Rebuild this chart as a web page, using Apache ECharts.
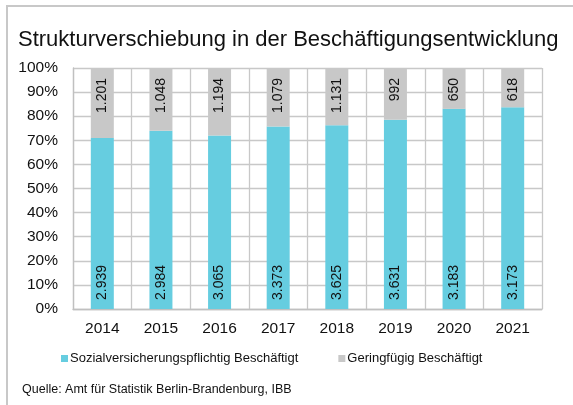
<!DOCTYPE html>
<html>
<head>
<meta charset="utf-8">
<script src="https://cdn.jsdelivr.net/npm/echarts@6/dist/echarts.min.js"></script>
<style>
html,body{margin:0;padding:0;background:#fff;}
#c{width:573px;height:405px;}
</style>
</head>
<body>
<div id="c"></div>
<script>
const categories = ['2014','2015','2016','2017','2018','2019','2020','2021'];
const sozial = [2939, 2984, 3065, 3373, 3625, 3631, 3183, 3173];
const gering = [1201, 1048, 1194, 1079, 1131, 992, 650, 618];
const yTicks = [0,10,20,30,40,50,60,70,80,90,100];

const fmt = v => { const s = String(v); return s.length > 3 ? s.slice(0, s.length-3) + '.' + s.slice(-3) : s; };
const sozialShare = sozial.map((v,i) => ({value: v/(v+gering[i])*100, raw: v}));
const geringShare = gering.map((v,i) => ({value: v/(v+sozial[i])*100, raw: v}));

const font = 'Liberation Sans, Arial, sans-serif';
const chart = echarts.init(document.getElementById('c'), null, {renderer:'canvas'});
chart.setOption({
  animation: false,
  backgroundColor: '#fff',
  textStyle: {fontFamily: font},
  title: {
    text: 'Strukturverschiebung in der Beschäftigungsentwicklung',
    left: 13, top: 24,
    textStyle: {fontFamily: font, fontSize: 22, fontWeight: 'normal', color: '#111'}
  },
  graphic: [
    {type:'rect', shape:{x:7, y:6, width:573, height:420}, style:{fill:'none', stroke:'#c8c8c8', lineWidth:2}, silent:true},
    {type:'text', left: 22, top: 383, style:{text:'Quelle: Amt für Statistik Berlin-Brandenburg, IBB', font:'12.5px ' + font, fill:'#111'}}
  ],
  legend: {
    top: 347, left: 56,
    itemWidth: 7, itemHeight: 7, itemGap: 40,
    icon: 'rect',
    textStyle: {fontFamily: font, fontSize: 13, color: '#111', padding:[0,0,0,-3]},
    data: ['Sozialversicherungspflichtig Beschäftigt','Geringfügig Beschäftigt']
  },
  grid: {left: 73, right: 31, top: 68, bottom: 96, containLabel: false},
  xAxis: {
    type: 'category', data: categories,
    boundaryGap: true,
    axisLine: {lineStyle: {color: '#c0c0c0', width: 1.3}},
    axisTick: {show: false},
    splitLine: {show: true, lineStyle: {color: '#c8c8c8', width: 1.3}},
    axisLabel: {fontFamily: font, fontSize: 15.5, color: '#111', margin: 12}
  },
  yAxis: {
    type: 'value', min: 0, max: 100, interval: 10,
    axisLine: {show: true, lineStyle: {color: '#c0c0c0', width: 1.3}},
    axisTick: {show: false},
    splitLine: {lineStyle: {color: '#c8c8c8', width: 1.3}},
    axisLabel: {fontFamily: font, fontSize: 15.5, color: '#111', margin: 15,
      formatter: v => yTicks.includes(v) ? v + '%' : ''}
  },
  series: [
    {
      name: 'Sozialversicherungspflichtig Beschäftigt', type: 'bar', stack: 'a',
      barWidth: 23, data: sozialShare,
      itemStyle: {color: '#66cde0'},
      label: {show: true, position: 'insideBottom', rotate: 90, align: 'left', verticalAlign: 'middle',
        distance: 9, fontFamily: font, fontSize: 14, color: '#111', formatter: p => fmt(p.data.raw)}
    },
    {
      name: 'Geringfügig Beschäftigt', type: 'bar', stack: 'a',
      barWidth: 23, data: geringShare,
      itemStyle: {color: '#c8c8c8'},
      label: {show: true, position: 'insideTop', rotate: 90, align: 'right', verticalAlign: 'middle',
        distance: 10, fontFamily: font, fontSize: 14, color: '#111', formatter: p => fmt(p.data.raw)}
    }
  ]
});
</script>
</body>
</html>
